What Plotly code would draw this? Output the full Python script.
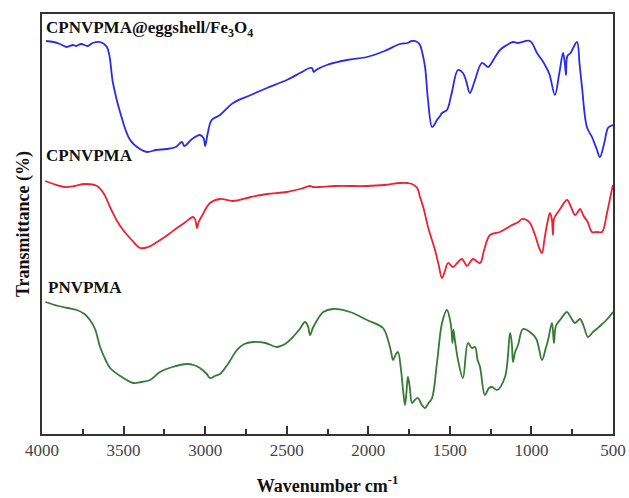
import plotly.graph_objects as go

# Wavenumber (cm-1) and relative transmittance (arbitrary units, offset spectra)
blue_wn = [3975, 3930, 3890, 3850, 3810, 3790, 3760, 3720, 3690, 3645, 3602, 3565, 3525,
           3460, 3400, 3357, 3300, 3235, 3180, 3142, 3128, 3080, 3032, 3010, 3000, 2985,
           2960, 2909, 2829, 2720, 2621, 2500, 2418, 2360, 2345, 2335, 2320, 2254, 2130,
           2008, 1900, 1806, 1760, 1732, 1700, 1683, 1670, 1652, 1634, 1609, 1592, 1579,
           1560, 1548, 1518, 1490, 1450, 1420, 1400, 1377, 1350, 1303, 1266, 1230, 1193,
           1150, 1113, 1082, 1009, 966, 940, 917, 890, 856, 830, 806, 795, 788, 780, 760,
           721, 705, 690, 660, 629, 600, 580, 555, 531, 515, 500]
blue_t = [393, 392, 390, 387, 389, 388, 390, 388, 391, 392, 387, 351, 324,
          294, 285, 282, 284, 285, 287, 292, 288, 295, 299, 296, 288, 300,
          314, 319, 331, 339, 346, 354, 361, 366, 366, 362, 364, 369, 374,
          377, 383, 390, 391, 393, 392, 389, 382, 367, 334, 307, 310, 314,
          318, 321, 324, 340, 364, 361, 353, 341, 352, 371, 367, 375, 384,
          389, 392, 391, 393, 381, 375, 369, 360, 339, 360, 381, 370, 359, 378, 381,
          392, 370, 347, 307, 297, 285, 277, 290, 306, 308, 309]

red_wn = [3980, 3930, 3860, 3800, 3740, 3663, 3620, 3583, 3540, 3503, 3450, 3399, 3350,
          3295, 3230, 3173, 3120, 3074, 3060, 3050, 3040, 3020, 2970, 2909, 2829, 2720,
          2621, 2500, 2418, 2357, 2340, 2300, 2200, 2008, 1900, 1806, 1760, 1732, 1700,
          1683, 1660, 1634, 1591, 1570, 1548, 1530, 1511, 1481, 1455, 1426, 1395, 1375,
          1358, 1315, 1290, 1254, 1193, 1130, 1080, 1058, 1030, 1009, 980, 950, 935, 920,
          900, 886, 875, 868, 862, 850, 820, 782, 760, 733, 720, 702, 680, 655, 629, 600,
          567, 537, 515, 500]
red_t = [253, 250, 247, 248, 250, 248, 240, 227, 213, 204, 194, 186, 187,
         192, 199, 206, 212, 217, 214, 206, 212, 218, 231, 235, 233, 237,
         240, 242, 245, 248, 247, 247, 248, 248, 249, 251, 251, 250, 246,
         237, 225, 207, 184, 170, 156, 163, 171, 167, 171, 175, 168, 172,
         175, 171, 184, 199, 202, 208, 212, 215, 214, 211, 200, 185, 181, 195,
         213, 221, 215, 199, 215, 219, 226, 234, 228, 219, 221, 225, 218, 212, 202, 202,
         202, 221, 238, 249]

green_wn = [3980, 3900, 3840, 3786, 3740, 3706, 3675, 3644, 3610, 3583, 3520, 3442, 3390,
            3338, 3277, 3200, 3111, 3070, 3032, 2990, 2970, 2940, 2909, 2860, 2805, 2760,
            2706, 2630, 2560, 2510, 2462, 2420, 2388, 2370, 2357, 2340, 2320, 2276, 2216,
            2112, 2008, 1910, 1879, 1860, 1848, 1830, 1818, 1800, 1787, 1775, 1766, 1757,
            1745, 1732, 1715, 1695, 1675, 1652, 1630, 1609, 1579, 1548, 1518, 1500, 1490,
            1484, 1478, 1470, 1450, 1420, 1389, 1365, 1346, 1330, 1315, 1285, 1260, 1242,
            1211, 1162, 1131, 1120, 1113, 1100, 1082, 1052, 1009, 970, 935, 915, 898, 874,
            862, 850, 820, 782, 760, 733, 702, 680, 653, 623, 600, 580, 540, 500]
green_t = [132, 128, 126, 124, 120, 114, 105, 87, 74, 66, 58, 51, 52,
           54, 62, 67, 70, 69, 66, 60, 56, 58, 60, 70, 84, 90,
           92, 91, 87, 90, 97, 105, 112, 108, 99, 106, 112, 122, 125,
           122, 114, 106, 94, 82, 74, 80, 82, 65, 44, 29, 42, 57,
           46, 31, 34, 36, 30, 26, 31, 36, 71, 111, 124, 115, 104,
           91, 104, 95, 74, 56, 91, 86, 87, 74, 67, 39, 46, 47,
           44, 57, 101, 90, 72, 82, 89, 105, 102, 95, 74, 84, 94, 111,
           91, 108, 115, 122, 117, 111, 115, 108, 97, 102, 105, 108, 114, 122]

x_ticks = [4000, 3500, 3000, 2500, 2000, 1500, 1000, 500]
x_tick_labels = ["4000", "3500", "3000", "2500", "2000", "1500", "1000", "500"]

series_names = ["CPNVPMA@eggshell/Fe<sub>3</sub>O<sub>4</sub>", "CPNVPMA", "PNVPMA"]
label_wn = [3985, 3985, 3975]
label_t = [405, 279, 147]

fig = go.Figure()
fig.add_trace(go.Scatter(x=blue_wn, y=blue_t, mode="lines",
                         line=dict(color="#2b2bea", width=1.8), line_shape="spline",
                         showlegend=False))
fig.add_trace(go.Scatter(x=red_wn, y=red_t, mode="lines",
                         line=dict(color="#ec2131", width=1.8), line_shape="spline",
                         showlegend=False))
fig.add_trace(go.Scatter(x=green_wn, y=green_t, mode="lines",
                         line=dict(color="#357a35", width=1.8), line_shape="spline",
                         showlegend=False))

for name, xw, yt in zip(series_names, label_wn, label_t):
    fig.add_annotation(x=xw, y=yt, text="<b>" + name + "</b>", showarrow=False,
                       xanchor="left", yanchor="middle",
                       font=dict(family="Liberation Serif", size=17, color="#111111"))

fig.update_layout(
    width=629, height=498,
    margin=dict(l=42, r=16, t=14, b=64, autoexpand=False),
    paper_bgcolor="white", plot_bgcolor="white",
    font=dict(family="Liberation Serif", color="#333333"),
    xaxis=dict(
        range=[4000, 500], tickvals=x_ticks, ticktext=x_tick_labels,
        ticks="inside", ticklen=8, tickwidth=2, tickcolor="#333333",
        minor=dict(ticks="inside", ticklen=5, tickwidth=1.5, tickcolor="#333333", dtick=250,
                   showgrid=False),
        showline=True, linewidth=2, linecolor="#333333", mirror=True,
        showgrid=False, zeroline=False, automargin=False, ticklabeloverflow="allow",
        tickfont=dict(family="Liberation Serif", size=17, color="#444444"),
        title=dict(text="<b>Wavenumber cm<sup>-1</sup></b>", standoff=20,
                   font=dict(family="Liberation Serif", size=18, color="#111111")),
    ),
    yaxis=dict(
        range=[0, 420], showticklabels=False, ticks="",
        showline=True, linewidth=2, linecolor="#333333", mirror=True,
        showgrid=False, zeroline=False, automargin=False,
        title=dict(text="<b>Transmittance (%)</b>", standoff=6,
                   font=dict(family="Liberation Serif", size=18, color="#111111")),
    ),
)

fig.write_html("out.html", config={"displayModeBar": False},
               post_script="document.body.style.margin='0';document.body.style.overflow='hidden';")
